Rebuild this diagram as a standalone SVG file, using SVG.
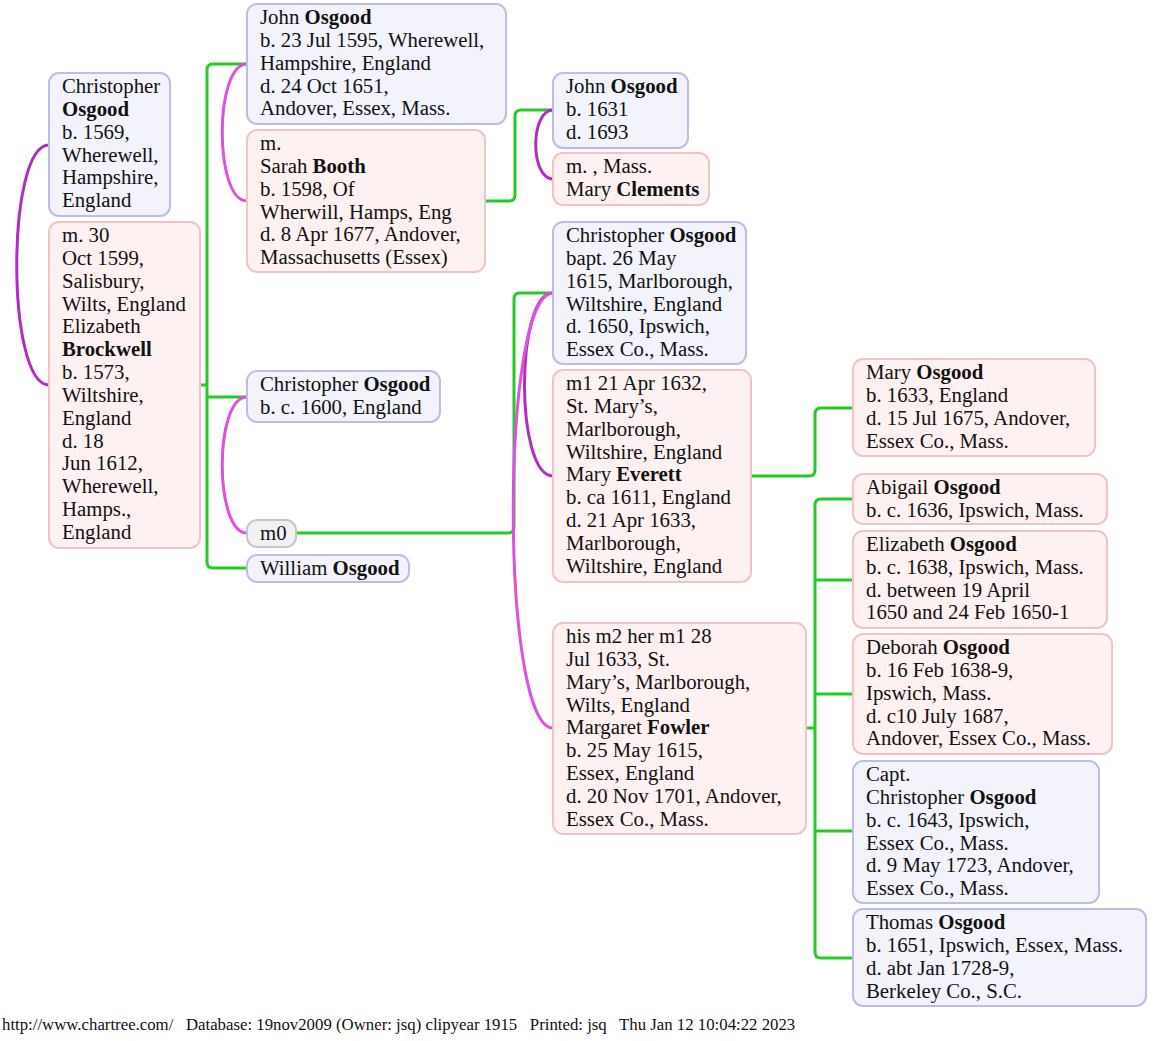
<svg xmlns="http://www.w3.org/2000/svg" width="1154" height="1041" viewBox="0 0 1154 1041">
<style>
text{font-family:"Liberation Serif","Times New Roman",serif;font-size:20.8px;fill:#111}
.b{font-weight:bold}
.m rect{fill:#f3f3fb;stroke:#bcbce8;stroke-width:2}
.f rect{fill:#fdf2f1;stroke:#f0c4c2;stroke-width:2}
.g rect{fill:#f1f1f1;stroke:#c6c6c6;stroke-width:2}
.gr{fill:none;stroke:#22cc22;stroke-width:3}
.p1{fill:none;stroke:#b02cc4;stroke-width:3}
.p2{fill:none;stroke:#e050e0;stroke-width:3}
.foot{font-size:16.8px}
</style>
<rect width="1154" height="1041" fill="#fff"/>
<g id="connectors">
<path class="gr" d="M247 64H213Q207 64 207 70V562Q207 568 213 568H247M200 385H207M207 397H247"/>
<path class="gr" d="M485 201H509Q515 201 515 195V116Q515 110 521 110H553"/>
<path class="gr" d="M296 533H508Q514 533 514 527V299Q514 293 520 293H553"/>
<path class="gr" d="M751 476H809Q815 476 815 470V414Q815 408 821 408H853"/>
<path class="gr" d="M806 728H815M853 499H821Q815 499 815 505V952Q815 958 821 958H853M815 580H853M815 694H853M815 831H853"/>
<path class="p1" d="M49 145C6 145 6 385 49 385"/>
<path class="p2" d="M247 64C214 64 214 201 247 201"/>
<path class="p2" d="M247 397C214 397 214 533 247 533"/>
<path class="p1" d="M553 110C530 110 530 179 553 179"/>
<path class="p1" d="M553 293C515 293 515 476 553 476"/>
<path class="p2" d="M553 293C500 293 500 728 553 728"/>
</g>
<g id="n1" class="m"><rect x="49" y="73" width="121" height="143" rx="10"/>
<text><tspan x="62" y="93">Christopher</tspan><tspan x="62" y="116" class="b">Osgood</tspan><tspan x="62" y="139">b. 1569,</tspan><tspan x="62" y="162">Wherewell,</tspan><tspan x="62" y="184">Hampshire,</tspan><tspan x="62" y="207">England</tspan></text></g>
<g id="n2" class="f"><rect x="49" y="222" width="151" height="326" rx="10"/>
<text><tspan x="62" y="242">m. 30</tspan><tspan x="62" y="265">Oct 1599,</tspan><tspan x="62" y="288">Salisbury,</tspan><tspan x="62" y="311">Wilts, England</tspan><tspan x="62" y="333">Elizabeth</tspan><tspan x="62" y="356" class="b">Brockwell</tspan><tspan x="62" y="379">b. 1573,</tspan><tspan x="62" y="402">Wiltshire,</tspan><tspan x="62" y="425">England</tspan><tspan x="62" y="448">d. 18</tspan><tspan x="62" y="470">Jun 1612,</tspan><tspan x="62" y="493">Wherewell,</tspan><tspan x="62" y="516">Hamps.,</tspan><tspan x="62" y="539">England</tspan></text></g>
<g id="n3" class="m"><rect x="247" y="4" width="259" height="120" rx="10"/>
<text><tspan x="260" y="24">John <tspan class="b">Osgood</tspan></tspan><tspan x="260" y="47">b. 23 Jul 1595, Wherewell,</tspan><tspan x="260" y="70">Hampshire, England</tspan><tspan x="260" y="93">d. 24 Oct 1651,</tspan><tspan x="260" y="115">Andover, Essex, Mass.</tspan></text></g>
<g id="n4" class="f"><rect x="247" y="130" width="238" height="142" rx="10"/>
<text><tspan x="260" y="150">m.</tspan><tspan x="260" y="173">Sarah <tspan class="b">Booth</tspan></tspan><tspan x="260" y="196">b. 1598, Of</tspan><tspan x="260" y="219">Wherwill, Hamps, Eng</tspan><tspan x="260" y="241">d. 8 Apr 1677, Andover,</tspan><tspan x="260" y="264">Massachusetts (Essex)</tspan></text></g>
<g id="n5" class="m"><rect x="247" y="371" width="193" height="51" rx="10"/>
<text><tspan x="260" y="391">Christopher <tspan class="b">Osgood</tspan></tspan><tspan x="260" y="414">b. c. 1600, England</tspan></text></g>
<g id="n6" class="g"><rect x="247" y="520" width="49" height="27" rx="10"/>
<text x="260" y="540">m0</text></g>
<g id="n7" class="m"><rect x="247" y="555" width="162" height="27" rx="10"/>
<text x="260" y="575">William <tspan class="b">Osgood</tspan></text></g>
<g id="n8" class="m"><rect x="553" y="73" width="135" height="75" rx="10"/>
<text><tspan x="566" y="93">John <tspan class="b">Osgood</tspan></tspan><tspan x="566" y="116">b. 1631</tspan><tspan x="566" y="139">d. 1693</tspan></text></g>
<g id="n9" class="f"><rect x="553" y="153" width="156" height="52" rx="10"/>
<text><tspan x="566" y="173">m. , Mass.</tspan><tspan x="566" y="196">Mary <tspan class="b">Clements</tspan></tspan></text></g>
<g id="n10" class="m"><rect x="553" y="222" width="193" height="142" rx="10"/>
<text><tspan x="566" y="242">Christopher <tspan class="b">Osgood</tspan></tspan><tspan x="566" y="265">bapt. 26 May</tspan><tspan x="566" y="288">1615, Marlborough,</tspan><tspan x="566" y="311">Wiltshire, England</tspan><tspan x="566" y="333">d. 1650, Ipswich,</tspan><tspan x="566" y="356">Essex Co., Mass.</tspan></text></g>
<g id="n11" class="f"><rect x="553" y="370" width="198" height="212" rx="10"/>
<text><tspan x="566" y="390">m1 21 Apr 1632,</tspan><tspan x="566" y="413">St. Mary’s,</tspan><tspan x="566" y="436">Marlborough,</tspan><tspan x="566" y="459">Wiltshire, England</tspan><tspan x="566" y="481">Mary <tspan class="b">Everett</tspan></tspan><tspan x="566" y="504">b. ca 1611, England</tspan><tspan x="566" y="527">d. 21 Apr 1633,</tspan><tspan x="566" y="550">Marlborough,</tspan><tspan x="566" y="573">Wiltshire, England</tspan></text></g>
<g id="n12" class="f"><rect x="553" y="623" width="253" height="211" rx="10"/>
<text><tspan x="566" y="643">his m2 her m1 28</tspan><tspan x="566" y="666">Jul 1633, St.</tspan><tspan x="566" y="689">Mary’s, Marlborough,</tspan><tspan x="566" y="712">Wilts, England</tspan><tspan x="566" y="734">Margaret <tspan class="b">Fowler</tspan></tspan><tspan x="566" y="757">b. 25 May 1615,</tspan><tspan x="566" y="780">Essex, England</tspan><tspan x="566" y="803">d. 20 Nov 1701, Andover,</tspan><tspan x="566" y="826">Essex Co., Mass.</tspan></text></g>
<g id="n13" class="f"><rect x="853" y="359" width="242" height="97" rx="10"/>
<text><tspan x="866" y="379">Mary <tspan class="b">Osgood</tspan></tspan><tspan x="866" y="402">b. 1633, England</tspan><tspan x="866" y="425">d. 15 Jul 1675, Andover,</tspan><tspan x="866" y="448">Essex Co., Mass.</tspan></text></g>
<g id="n14" class="f"><rect x="853" y="474" width="254" height="50" rx="10"/>
<text><tspan x="866" y="494">Abigail <tspan class="b">Osgood</tspan></tspan><tspan x="866" y="517">b. c. 1636, Ipswich, Mass.</tspan></text></g>
<g id="n15" class="f"><rect x="853" y="531" width="254" height="97" rx="10"/>
<text><tspan x="866" y="551">Elizabeth <tspan class="b">Osgood</tspan></tspan><tspan x="866" y="574">b. c. 1638, Ipswich, Mass.</tspan><tspan x="866" y="597">d. between 19 April</tspan><tspan x="866" y="619">1650 and 24 Feb 1650-1</tspan></text></g>
<g id="n16" class="f"><rect x="853" y="634" width="259" height="120" rx="10"/>
<text><tspan x="866" y="654">Deborah <tspan class="b">Osgood</tspan></tspan><tspan x="866" y="677">b. 16 Feb 1638-9,</tspan><tspan x="866" y="700">Ipswich, Mass.</tspan><tspan x="866" y="723">d. c10 July 1687,</tspan><tspan x="866" y="745">Andover, Essex Co., Mass.</tspan></text></g>
<g id="n17" class="m"><rect x="853" y="761" width="246" height="142" rx="10"/>
<text><tspan x="866" y="781">Capt.</tspan><tspan x="866" y="804">Christopher <tspan class="b">Osgood</tspan></tspan><tspan x="866" y="827">b. c. 1643, Ipswich,</tspan><tspan x="866" y="850">Essex Co., Mass.</tspan><tspan x="866" y="872">d. 9 May 1723, Andover,</tspan><tspan x="866" y="895">Essex Co., Mass.</tspan></text></g>
<g id="n18" class="m"><rect x="853" y="909" width="293" height="97" rx="10"/>
<text><tspan x="866" y="929">Thomas <tspan class="b">Osgood</tspan></tspan><tspan x="866" y="952">b. 1651, Ipswich, Essex, Mass.</tspan><tspan x="866" y="975">d. abt Jan 1728-9,</tspan><tspan x="866" y="998">Berkeley Co., S.C.</tspan></text></g>
<text class="foot" x="2" y="1030" xml:space="preserve">http://www.chartree.com/   Database: 19nov2009 (Owner: jsq) clipyear 1915   Printed: jsq   Thu Jan 12 10:04:22 2023</text>
</svg>
